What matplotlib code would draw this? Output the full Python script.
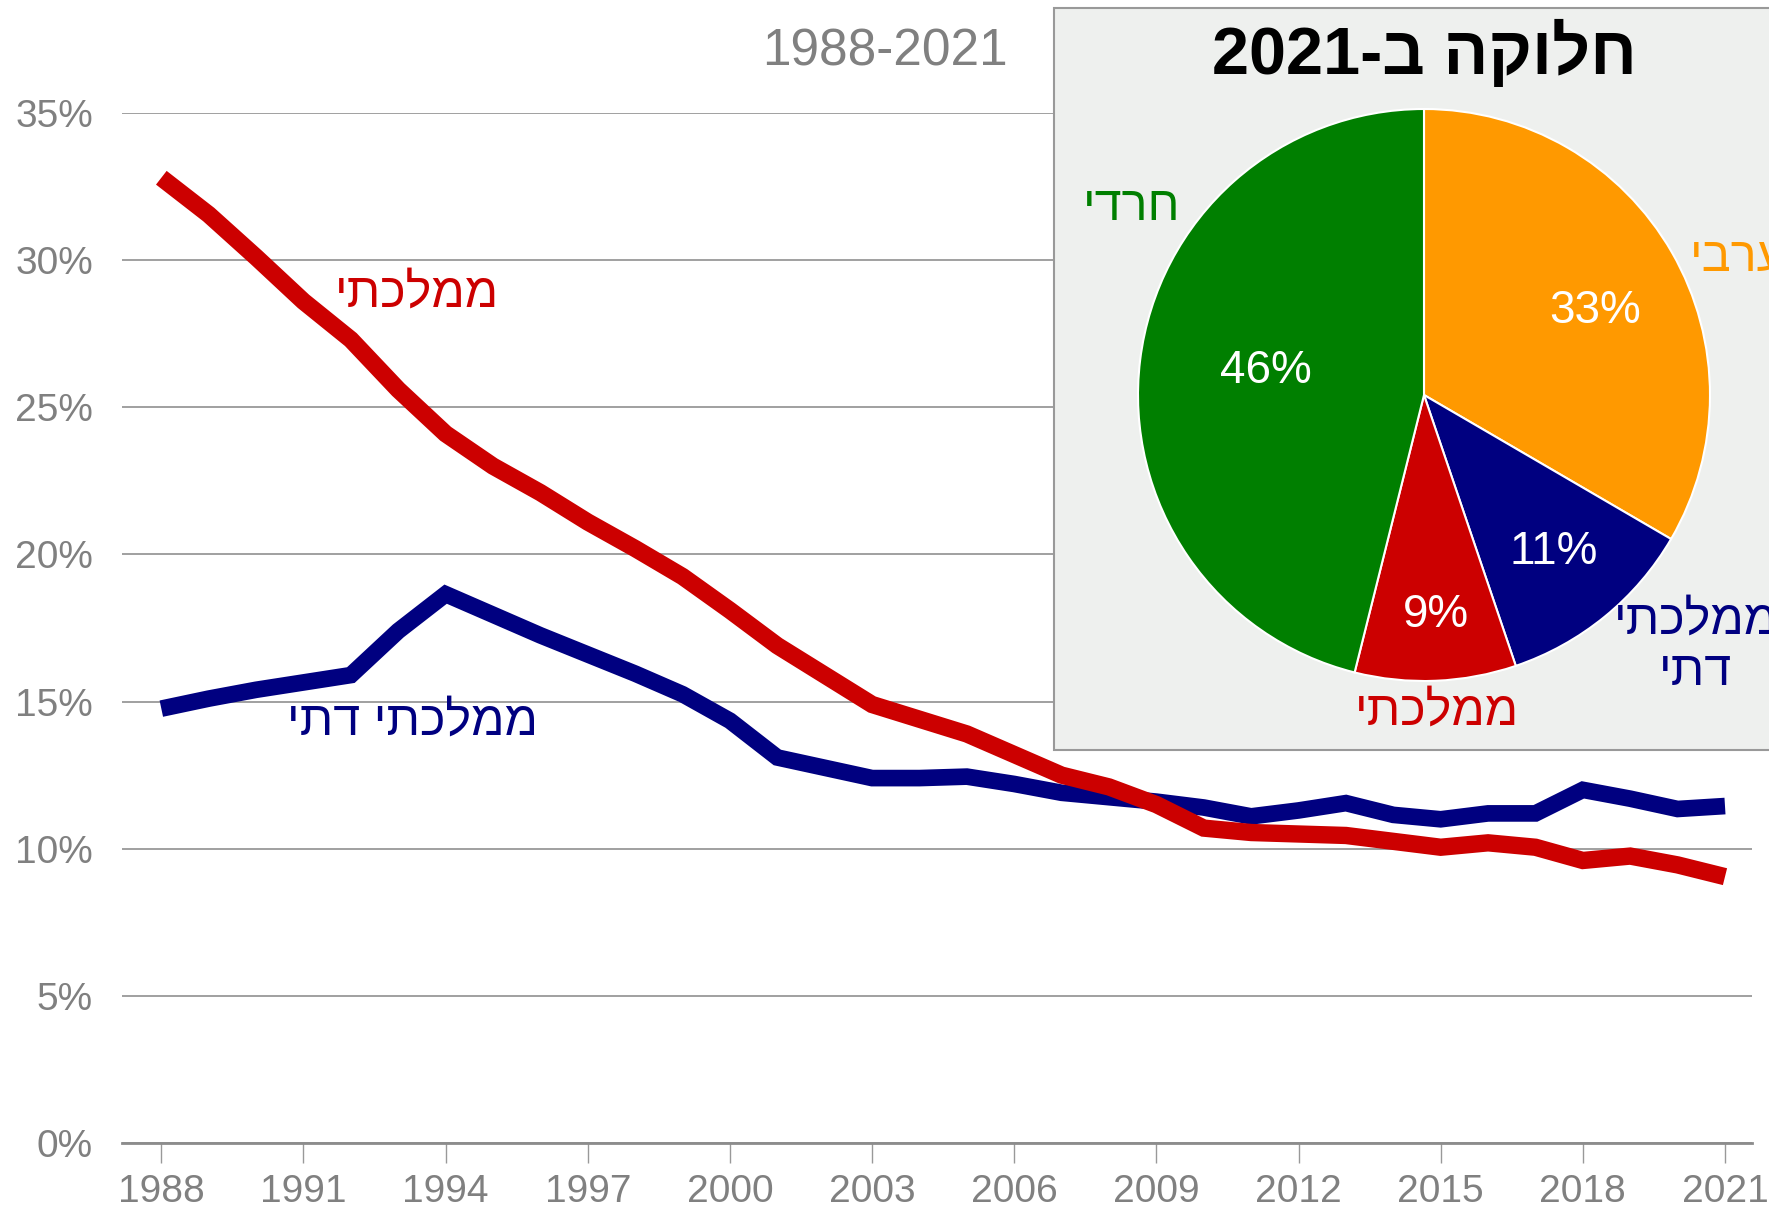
import re
import matplotlib
matplotlib.use('Agg')
import matplotlib.pyplot as plt
from matplotlib.patches import Rectangle
import numpy as np

plt.rcParams['font.family'] = ['Liberation Sans', 'DejaVu Sans']

# ---------------- data ----------------
years = list(range(1988, 2022))
mamlachti = [32.8, 31.55, 30.1, 28.6, 27.3, 25.6, 24.1, 23.0, 22.1, 21.1, 20.2, 19.25,
             18.1, 16.9, 15.9, 14.9, 14.4, 13.9, 13.2, 12.5, 12.1, 11.5, 10.7, 10.55,
             10.5, 10.45, 10.25, 10.05, 10.2, 10.05, 9.6, 9.75, 9.45, 9.05]
mamlachti_dati = [14.76, 15.1, 15.4, 15.65, 15.9, 17.4, 18.65, 17.95, 17.25, 16.6, 15.95, 15.25,
                  14.35, 13.1, 12.75, 12.4, 12.4, 12.45, 12.2, 11.9, 11.75, 11.6, 11.4, 11.1,
                  11.3, 11.55, 11.15, 11.0, 11.2, 11.2, 12.0, 11.7, 11.35, 11.45]
line_labels = ['ממלכתי', 'ממלכתי דתי']

pie_labels = ['ערבי', 'ממלכתי\nדתי', 'ממלכתי', 'חרדי']
pie_values = [33.4, 11.4, 9.1, 46.1]
pie_colors = ['#FF9900', '#000080', '#CC0000', '#007F00']

xticks = list(range(1988, 2022, 3))
yticks = [0, 5, 10, 15, 20, 25, 30, 35]
range_title = '1988-2021'
pie_title = 'חלוקה ב-2021'

RED = '#CC0000'
NAVY = '#000080'
GRAY = '#808080'


def rtl(s):
    """Very small bidi: reverse Hebrew runs, keep digit runs LTR."""
    out = []
    for line in s.split('\n'):
        tokens = re.findall(r'[0-9]+|[^0-9]+', line)
        vis = [t if t.isdigit() else t[::-1] for t in reversed(tokens)]
        out.append(''.join(vis))
    return '\n'.join(out)


W, H = 1769, 1209
fig = plt.figure(figsize=(W / 100, H / 100), dpi=100)

# ---------------- line chart ----------------
ax = fig.add_axes([122 / W, 1 - 1143 / H, (1752 - 122) / W, (1143 - 113) / H])
ax.set_zorder(0)
ax.plot(years, mamlachti, color=RED, lw=12.5, solid_capstyle='butt',
        solid_joinstyle='miter', clip_on=False, zorder=3)
ax.plot(years, mamlachti_dati, color=NAVY, lw=12, solid_capstyle='butt',
        solid_joinstyle='miter', clip_on=False, zorder=2)

ax.set_xlim(1987.17, 2021.57)
ax.set_ylim(0, 35)
ax.set_xticks(xticks)
ax.set_xticklabels([str(x) for x in xticks], fontsize=28, color=GRAY)
ax.set_yticks(yticks)
ax.set_yticklabels([f'{y}%' for y in yticks], fontsize=28, color=GRAY)
ax.tick_params(axis='y', length=0, pad=21)
ax.tick_params(axis='x', length=14.4, width=1, color='#999999', pad=8)
for sp in ['top', 'right', 'left']:
    ax.spines[sp].set_visible(False)
ax.spines['bottom'].set_color('#8c8c8c')
ax.spines['bottom'].set_linewidth(2)
ax.yaxis.grid(True, color='#999999', lw=1.3)
ax.set_axisbelow(True)

ax.text(1993.4, 28.85, rtl(line_labels[0]), color=RED, fontsize=35,
        ha='center', va='center')
ax.text(1993.3, 14.3, rtl(line_labels[1]), color=NAVY, fontsize=35,
        ha='center', va='center')

fig.text(885 / W, 1 - 52 / H, range_title, color=GRAY, fontsize=37,
         ha='center', va='center')

# ---------------- pie inset ----------------
box = Rectangle((1054 / W, 1 - 750 / H), (W - 1054 + 20) / W, (750 - 8) / H,
                transform=fig.transFigure, facecolor='#EEF0EE',
                edgecolor='#999999', lw=1.5, zorder=1)
fig.add_artist(box)

ax2 = fig.add_axes([1138 / W, 1 - (395 + 286) / H, 572 / W, 572 / H])
ax2.set_zorder(2)
ax2.patch.set_visible(False)
wedges, _ = ax2.pie(pie_values, colors=pie_colors, startangle=90, counterclock=False,
                    wedgeprops=dict(edgecolor='white', linewidth=1.5), radius=1)
ax2.set_xlim(-1, 1)
ax2.set_ylim(-1, 1)
ax2.set_aspect('equal')
ax2.axis('off')

pct_pos = [(0.597, 0.295), (0.455, -0.550), (0.043, -0.768), (-0.553, 0.084)]
for v, (x, y) in zip(pie_values, pct_pos):
    ax2.text(x, y, f'{round(v)}%', color='white',
             fontsize=33, ha='center', va='center')

label_pos = [(0.93, 0.479, 'left'), (0.951, -0.88, 'center'),
             (0.045, -1.108, 'center'), (-1.021, 0.655, 'center')]
for lab, col, (x, y, ha) in zip(pie_labels, pie_colors, label_pos):
    ax2.text(x, y, rtl(lab), color=col, fontsize=35, ha=ha, va='center',
             linespacing=1.2, clip_on=False)

fig.text(1424.5 / W, 1 - 54 / H, rtl(pie_title), color='black', fontsize=48,
         fontweight='bold', ha='center', va='center', zorder=3)

fig.savefig('out.png', dpi=100)
